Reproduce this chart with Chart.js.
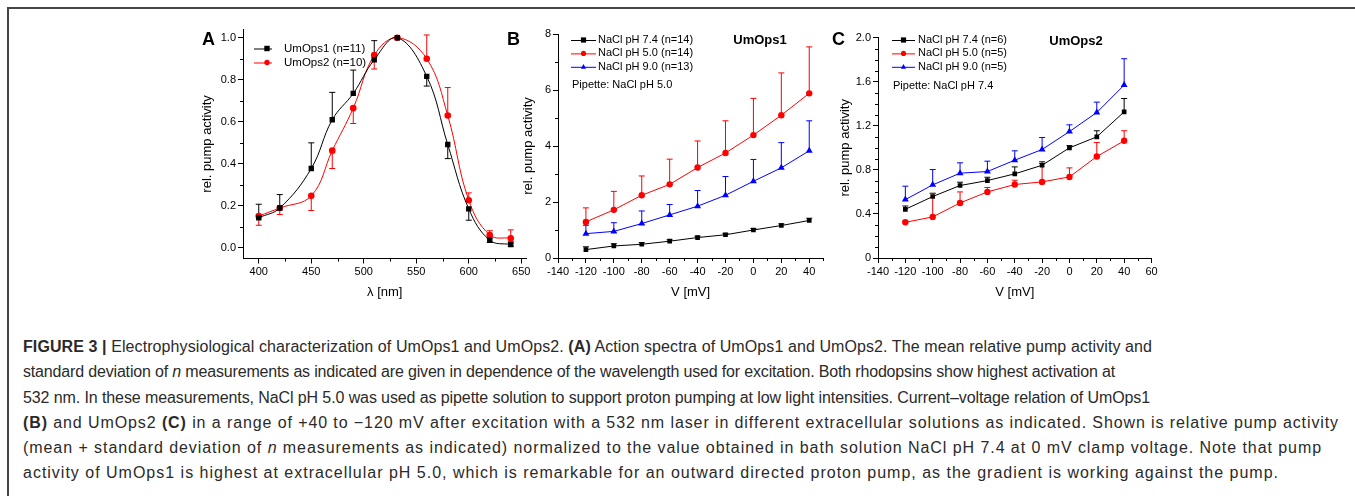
<!DOCTYPE html>
<html>
<head>
<meta charset="utf-8">
<script src="https://cdn.jsdelivr.net/npm/chart.js@4.4.0/dist/chart.umd.min.js"></script>
<style>
  body { margin: 0; background: #fff; width: 1355px; height: 496px; overflow: hidden; position: relative; }
  .frame { position: absolute; left: 7px; top: 7px; width: 1400px; height: 600px; border-top: 2px solid #444; border-left: 2px solid #444; }
  .panel { position: absolute; }
  .caption { position: absolute; left: 23px; top: 334px; white-space: nowrap; color: #2a2a2a;
             font-family: "Liberation Sans", Arial, sans-serif; font-size: 16px; }
  .caption div { height: 25.3px; line-height: 25.3px; }
</style>
</head>
<body>
<div class="frame"></div>
<div class="panel" style="left:190px;top:18px"><canvas id="chartA" width="350" height="292"></canvas></div>
<div class="panel" style="left:495px;top:18px"><canvas id="chartB" width="335" height="292"></canvas></div>
<div class="panel" style="left:820px;top:18px"><canvas id="chartC" width="345" height="292"></canvas></div>
<div class="caption" id="caption">
  <div><b>FIGURE 3 |</b> Electrophysiological characterization of UmOps1 and UmOps2. <b>(A)</b> Action spectra of UmOps1 and UmOps2. The mean relative pump activity and</div>
  <div>standard deviation of <i>n</i> measurements as indicated are given in dependence of the wavelength used for excitation. Both rhodopsins show highest activation at</div>
  <div>532 nm. In these measurements, NaCl pH 5.0 was used as pipette solution to support proton pumping at low light intensities. Current–voltage relation of UmOps1</div>
  <div><b>(B)</b> and UmOps2 <b>(C)</b> in a range of +40 to −120 mV after excitation with a 532 nm laser in different extracellular solutions as indicated. Shown is relative pump activity</div>
  <div>(mean + standard deviation of <i>n</i> measurements as indicated) normalized to the value obtained in bath solution NaCl pH 7.4 at 0 mV clamp voltage. Note that pump</div>
  <div>activity of UmOps1 is highest at extracellular pH 5.0, which is remarkable for an outward directed proton pump, as the gradient is working against the pump.</div>
</div>
<script>
const FONT = "'Liberation Sans', Arial, sans-serif"

// 패널 A: 작용 스펙트럼
const wavelengths = [400, 420, 450, 470, 490, 510, 532, 560, 580, 600, 620, 640]
const umOps1Spectrum = [0.144, 0.19, 0.378, 0.61, 0.735, 0.895, 1.0, 0.816, 0.492, 0.186, 0.037, 0.016]
const umOps1SdUp = [0.064, 0.064, 0.122, 0.13, 0.111, 0.091, 0, 0, 0, 0, 0.01, 0.008]
const umOps1SdDown = [0, 0, 0, 0, 0, 0, 0, 0.046, 0.067, 0.054, 0.01, 0.008]
const umOps2Spectrum = [0.152, 0.19, 0.248, 0.463, 0.665, 0.917, 1.0, 0.9, 0.63, 0.227, 0.062, 0.046]
const umOps2SdUp = [0, 0, 0, 0, 0, 0, 0, 0.113, 0.133, 0.035, 0.02, 0.04]
const umOps2SdDown = [0.044, 0.031, 0.07, 0.085, 0.073, 0.066, 0, 0, 0, 0, 0, 0.015]

// 패널 B, C: 전류-전압 관계
const voltages = [-120, -100, -80, -60, -40, -20, 0, 20, 40]
const ops1Ph74 = [0.3, 0.43, 0.49, 0.6, 0.73, 0.83, 1.0, 1.16, 1.34]
const ops1Ph74Sd = [0.1, 0.08, 0.06, 0.05, 0.05, 0.05, 0.05, 0.06, 0.08]
const ops1Ph50 = [1.29, 1.72, 2.24, 2.63, 3.23, 3.75, 4.39, 5.1, 5.88]
const ops1Ph50Sd = [0.5, 0.66, 0.69, 0.9, 0.95, 1.15, 1.31, 1.51, 1.66]
const ops1Ph90 = [0.87, 0.95, 1.23, 1.54, 1.85, 2.24, 2.74, 3.22, 3.83]
const ops1Ph90Sd = [0.3, 0.31, 0.45, 0.37, 0.56, 0.67, 0.78, 0.9, 1.07]

const ops2Ph74 = [0.442, 0.558, 0.658, 0.703, 0.764, 0.842, 1.0, 1.1, 1.327]
const ops2Ph74Sd = [0.03, 0.03, 0.03, 0.03, 0.063, 0.031, 0.02, 0.055, 0.121]
const ops2Ph50 = [0.324, 0.373, 0.5, 0.6, 0.667, 0.691, 0.736, 0.921, 1.064]
const ops2Ph50Sd = [0.01, 0.212, 0.1, 0.04, 0.039, 0.167, 0.082, 0.127, 0.091]
const ops2Ph90 = [0.53, 0.664, 0.77, 0.785, 0.888, 0.985, 1.148, 1.321, 1.57]
const ops2Ph90Sd = [0.122, 0.139, 0.094, 0.094, 0.085, 0.109, 0.061, 0.094, 0.239]

// 눈금 라벨
const ticksWavelength = [400, 450, 500, 550, 600, 650]
const ticksActivityA = [0, 0.2, 0.4, 0.6, 0.8, 1.0]
const ticksVoltage = [-140, -120, -100, -80, -60, -40, -20, 0, 20, 40, 60]
const ticksActivityB = [0, 2, 4, 6, 8]
const ticksActivityC = [0, 0.4, 0.8, 1.2, 1.6, 2.0]

const BLACK = "#000000"
const RED = "#ff0000"
const BLUE = "#0000ff"

function toPoints(xs, ys) {
  return xs.map((x, i) => ({ x: x, y: ys[i] }))
}

// 오차 막대 (평균 ± 표준편차)
const errorBarPlugin = {
  id: "errorBars",
  beforeDatasetsDraw(chart) {
    const ctx = chart.ctx
    const xs = chart.scales.x
    const ys = chart.scales.y
    chart.data.datasets.forEach((ds) => {
      ctx.save()
      ctx.strokeStyle = ds.borderColor
      ctx.lineWidth = 1
      ds.data.forEach((pt, i) => {
        const px = xs.getPixelForValue(pt.x)
        const py = ys.getPixelForValue(pt.y)
        const parts = []
        if (ds.errUp && ds.errUp[i]) parts.push(pt.y + ds.errUp[i])
        if (ds.errDown && ds.errDown[i]) parts.push(pt.y - ds.errDown[i])
        parts.forEach((v) => {
          const pe = ys.getPixelForValue(v)
          ctx.beginPath()
          ctx.moveTo(px, py)
          ctx.lineTo(px, pe)
          ctx.moveTo(px - 3, pe)
          ctx.lineTo(px + 3, pe)
          ctx.stroke()
        })
      })
      ctx.restore()
    })
  },
}

// 보조 눈금
const minorTickPlugin = {
  id: "minorTicks",
  afterDraw(chart, args, opts) {
    const ctx = chart.ctx
    const area = chart.chartArea
    const xs = chart.scales.x
    const ys = chart.scales.y
    const isMajor = (v, list) => list.some((m) => Math.abs(m - v) < 1e-6)
    ctx.save()
    ctx.strokeStyle = "#000"
    ctx.lineWidth = 1
    ctx.beginPath()
    for (let v = opts.xStart; v <= xs.max + 1e-9; v += opts.xStep) {
      if (isMajor(v, opts.xMajor)) continue
      const px = Math.round(xs.getPixelForValue(v)) + 0.5
      ctx.moveTo(px, area.bottom)
      ctx.lineTo(px, area.bottom + 3)
    }
    for (let v = opts.yStart; v <= ys.max + 1e-9; v += opts.yStep) {
      if (isMajor(v, opts.yMajor)) continue
      const py = Math.round(ys.getPixelForValue(v)) + 0.5
      ctx.moveTo(area.left, py)
      ctx.lineTo(area.left - 3, py)
    }
    ctx.stroke()
    ctx.restore()
  },
}

function drawMarker(ctx, style, x, y, r) {
  ctx.beginPath()
  if (style === "rect") {
    ctx.rect(x - r, y - r, r * 2, r * 2)
  } else if (style === "triangle") {
    ctx.moveTo(x, y - r * 1.1)
    ctx.lineTo(x + r, y + r * 0.75)
    ctx.lineTo(x - r, y + r * 0.75)
    ctx.closePath()
  } else {
    ctx.arc(x, y, r, 0, Math.PI * 2)
  }
  ctx.fill()
}

// 패널 문자, 범례, 주석
const panelTextPlugin = {
  id: "panelText",
  afterDraw(chart, args, opts) {
    const ctx = chart.ctx
    ctx.save()
    ctx.fillStyle = "#000"
    ctx.font = "bold 18px " + FONT
    ctx.textBaseline = "alphabetic"
    ctx.textAlign = "left"
    ctx.fillText(opts.letter, 12, 27)

    const lg = opts.legend
    ctx.font = lg.fontSize + "px " + FONT
    ctx.textBaseline = "middle"
    chart.data.datasets.forEach((ds, i) => {
      const y = lg.y + i * lg.rowGap
      ctx.strokeStyle = ds.borderColor
      ctx.lineWidth = 1
      ctx.beginPath()
      ctx.moveTo(lg.x, y + 0.5)
      ctx.lineTo(lg.x + lg.lineLen, y + 0.5)
      ctx.stroke()
      ctx.fillStyle = ds.borderColor
      drawMarker(ctx, ds.pointStyle, lg.x + lg.markerAt, y, lg.markerSize)
      ctx.fillStyle = "#000"
      ctx.fillText(ds.label, lg.textX, y)
    })

    ;(opts.notes || []).forEach((n) => {
      ctx.font = n.font
      ctx.textAlign = n.align || "left"
      ctx.fillStyle = "#000"
      ctx.fillText(n.text, n.x, n.y)
    })
    ctx.restore()
  },
}

function axis(min, max, tickValues, format, title, titlePad, size) {
  return {
    type: "linear",
    min: min,
    max: max,
    afterBuildTicks: (scale) => {
      scale.ticks = tickValues.filter((v) => v >= min && v <= max).map((v) => ({ value: v }))
    },
    afterFit: (scale) => {
      if (scale.isHorizontal()) scale.height = size
      else scale.width = size
    },
    border: { display: true, color: "#000", width: 1 },
    grid: { drawOnChartArea: false, drawTicks: true, tickLength: 5, tickColor: "#000", tickWidth: 1 },
    ticks: {
      color: "#000",
      font: { family: FONT, size: 11 },
      padding: 2,
      autoSkip: false,
      maxRotation: 0,
      callback: (v) => format(v),
    },
    title: { display: true, text: title, color: "#000", font: { family: FONT, size: 13 }, padding: titlePad },
  }
}

function series(label, xs, ys, color, style, radius, up, down, tension) {
  return {
    label: label,
    data: toPoints(xs, ys),
    borderColor: color,
    backgroundColor: color,
    borderWidth: 1,
    pointStyle: style,
    pointRadius: radius,
    pointBorderWidth: 0,
    pointBackgroundColor: color,
    tension: tension,
    errUp: up,
    errDown: down,
  }
}

function baseOptions(padding, xAxis, yAxis, minor, text) {
  return {
    type: "line",
    options: {
      responsive: false,
      animation: false,
      devicePixelRatio: 1,
      events: [],
      layout: { padding: padding },
      scales: { x: xAxis, y: yAxis },
      plugins: {
        legend: { display: false },
        tooltip: { enabled: false },
        minorTicks: minor,
        panelText: text,
      },
    },
    plugins: [errorBarPlugin, minorTickPlugin, panelTextPlugin],
  }
}

function makeChart(id, datasets, cfg) {
  cfg.data = { datasets: datasets }
  return new Chart(document.getElementById(id), cfg)
}

const oneDecimal = (v) => v.toFixed(1)
const integer = (v) => String(v)
const cFormat = (v) => (v === 0 ? "0" : v.toFixed(1))

// 패널 A
makeChart(
  "chartA",
  [
    series("UmOps1 (n=11)", wavelengths, umOps1Spectrum, BLACK, "rect", 3.8, umOps1SdUp, umOps1SdDown, 0.4),
    series("UmOps2 (n=10)", wavelengths, umOps2Spectrum, RED, "circle", 3.3, umOps2SdUp, umOps2SdDown, 0.4),
  ],
  baseOptions(
    { top: 11.3, right: 13.5, bottom: 0, left: 0 },
    axis(385, 655, ticksWavelength, integer, "λ [nm]", { top: 0, bottom: 10 }, 51.5),
    axis(-0.05, 1.04, ticksActivityA, oneDecimal, "rel. pump activity", { top: 10, bottom: 0 }, 53),
    { xStart: 425, xStep: 50, xMajor: ticksWavelength, yStart: 0.1, yStep: 0.2, yMajor: ticksActivityA },
    {
      letter: "A",
      legend: { x: 64, lineLen: 18, markerAt: 13, markerSize: 2.7, textX: 94, y: 30.5, rowGap: 14, fontSize: 11.5 },
    }
  )
)

// 패널 B
makeChart(
  "chartB",
  [
    series("NaCl pH 7.4 (n=14)", voltages, ops1Ph74, BLACK, "rect", 3.3, ops1Ph74Sd, null, 0),
    series("NaCl pH 5.0 (n=14)", voltages, ops1Ph50, RED, "circle", 3.2, ops1Ph50Sd, null, 0),
    series("NaCl pH 9.0 (n=13)", voltages, ops1Ph90, BLUE, "triangle", 4, ops1Ph90Sd, null, 0),
  ],
  baseOptions(
    { top: 16, right: 6.8, bottom: 0, left: 0 },
    axis(-140, 50, ticksVoltage, integer, "V [mV]", { top: 0, bottom: 10 }, 52),
    axis(0, 8, ticksActivityB, integer, "rel. pump activity", { top: 26, bottom: 0 }, 63),
    { xStart: -130, xStep: 20, xMajor: ticksVoltage, yStart: 1, yStep: 2, yMajor: ticksActivityB },
    {
      letter: "B",
      legend: { x: 76, lineLen: 25, markerAt: 12.5, markerSize: 2.6, textX: 103, y: 22, rowGap: 13.4, fontSize: 11 },
      notes: [
        { text: "Pipette: NaCl pH 5.0", x: 77, y: 67, font: "11px " + FONT },
        { text: "UmOps1", x: 265, y: 22, font: "bold 13px " + FONT, align: "center" },
      ],
    }
  )
)

// 패널 C
makeChart(
  "chartC",
  [
    series("NaCl pH 7.4 (n=6)", voltages, ops2Ph74, BLACK, "rect", 3.3, ops2Ph74Sd, null, 0),
    series("NaCl pH 5.0 (n=5)", voltages, ops2Ph50, RED, "circle", 3.2, ops2Ph50Sd, null, 0),
    series("NaCl pH 9.0 (n=5)", voltages, ops2Ph90, BLUE, "triangle", 4, ops2Ph90Sd, null, 0),
  ],
  baseOptions(
    { top: 19.7, right: 13.5, bottom: 0, left: 0 },
    axis(-140, 60, ticksVoltage, integer, "V [mV]", { top: 0, bottom: 10 }, 52),
    axis(0, 2.0, ticksActivityC, cFormat, "rel. pump activity", { top: 18, bottom: 0 }, 58),
    { xStart: -130, xStep: 20, xMajor: ticksVoltage, yStart: 0.1, yStep: 0.1, yMajor: ticksActivityC },
    {
      letter: "C",
      legend: { x: 72, lineLen: 23, markerAt: 11.5, markerSize: 2.6, textX: 98, y: 22, rowGap: 13.4, fontSize: 11 },
      notes: [
        { text: "Pipette: NaCl pH 7.4", x: 73, y: 68, font: "11px " + FONT },
        { text: "UmOps2", x: 256, y: 23, font: "bold 13px " + FONT, align: "center" },
      ],
    }
  )
)

// 캡션 각 줄을 원본 줄 폭에 맞춤 (자간 조정)
const captionWidths = [1129, 1092, 1127, 1316, 1299, 1256]
document.querySelectorAll("#caption > div").forEach((line, i) => {
  const range = document.createRange()
  range.selectNodeContents(line)
  const natural = range.getBoundingClientRect().width
  const chars = line.textContent.length
  if (natural > 0 && chars > 0) {
    line.style.letterSpacing = (captionWidths[i] - natural) / chars + "px"
  }
})
</script>
</body>
</html>
